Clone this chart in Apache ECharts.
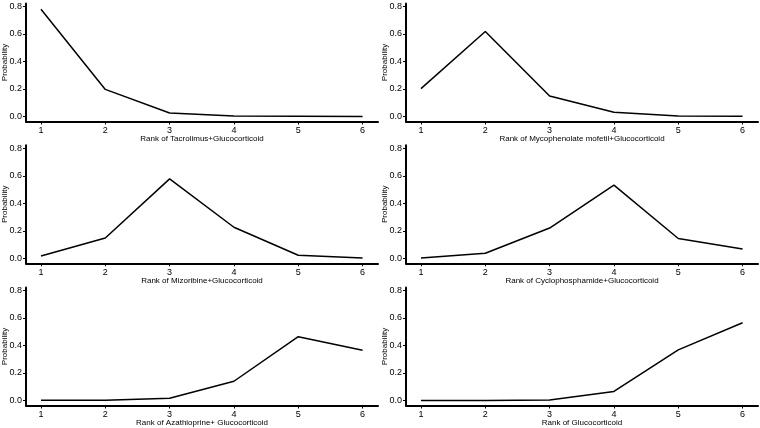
<!DOCTYPE html>
<html><head><meta charset="utf-8">
<script src="https://cdn.jsdelivr.net/npm/echarts@6/dist/echarts.min.js"></script>
<style>html,body{margin:0;padding:0;background:#fff}#c{width:760px;height:428px}</style>
</head><body><div id="c"></div>
<script>
const ranks = [1, 2, 3, 4, 5, 6];
const yTicks = [0, 0.2, 0.4, 0.6, 0.8];
const titles = [
  'Rank of Tacrolimus+Glucocorticoid',
  'Rank of Mycophenolate mofetil+Glucocorticoid',
  'Rank of Mizoribine+Glucocorticoid',
  'Rank of Cyclophosphamide+Glucocorticoid',
  'Rank of Azathioprine+ Glucocorticoid',
  'Rank of Glucocorticoid'
];
const tacrolimus = [0.78, 0.197, 0.025, 0.004, 0.001, 0.0];
const mycophenolate = [0.203, 0.618, 0.149, 0.031, 0.003, 0.001];
const mizoribine = [0.017, 0.148, 0.578, 0.226, 0.022, 0.003];
const cyclophosphamide = [0.003, 0.037, 0.22, 0.532, 0.144, 0.068];
const azathioprine = [0.001, 0.002, 0.016, 0.14, 0.464, 0.366];
const glucocorticoid = [0.0, 0.0, 0.004, 0.066, 0.368, 0.565];
const seriesData = [tacrolimus, mycophenolate, mizoribine, cyclophosphamide, azathioprine, glucocorticoid];

const chart = echarts.init(document.getElementById('c'), null, {renderer: 'canvas'});
const FONT = 'Liberation Sans';
const zeroY = [116.5, 258.3, 400.5];
const S = 137.5;
const colX = [26, 406];
const axW = 352;
const grids = [], xAxes = [], yAxes = [], series = [];
for (let i = 0; i < 6; i++) {
  const r = Math.floor(i / 2), c = i % 2;
  const top = zeroY[r] - 0.8 * S - 3;
  const bottom = zeroY[r] + 5;
  grids.push({left: colX[c], top: top, width: axW, height: bottom - top,
    containLabel: false, outerBoundsMode: 'none'});
  xAxes.push({
    type: 'value', gridIndex: i, min: 0.767, max: 6.24,
    name: titles[i], nameLocation: 'middle', nameGap: 13, nameMoveOverlap: false,
    nameTextStyle: {color: '#000', fontFamily: FONT, fontSize: 8},
    axisLine: {onZero: false, lineStyle: {color: '#000', width: 2}},
    axisTick: {show: true, length: 3, lineStyle: {color: '#000', width: 1}, customValues: ranks},
    axisLabel: {color: '#000', fontFamily: FONT, fontSize: 9, margin: 5, customValues: ranks},
    splitLine: {show: false}
  });
  yAxes.push({
    type: 'value', gridIndex: i, min: -5 / S, max: 0.8 + 3 / S,
    name: 'Probability', nameLocation: 'middle', nameGap: 17, nameMoveOverlap: false,
    nameTextStyle: {color: '#000', fontFamily: FONT, fontSize: 8},
    axisLine: {show: true, onZero: false, lineStyle: {color: '#000', width: 2}},
    axisTick: {show: true, length: 3, lineStyle: {color: '#000', width: 1}, customValues: yTicks},
    axisLabel: {color: '#000', fontFamily: FONT, fontSize: 9, margin: 4, customValues: yTicks,
      formatter: v => v.toFixed(1)},
    splitLine: {show: false}
  });
  series.push({
    type: 'line', xAxisIndex: i, yAxisIndex: i,
    data: ranks.map((x, k) => [x, seriesData[i][k]]),
    showSymbol: false, symbol: 'none',
    lineStyle: {color: '#000', width: 1.5}, animation: false
  });
}
chart.setOption({animation: false, backgroundColor: '#fff', grid: grids, xAxis: xAxes, yAxis: yAxes, series: series});
</script></body></html>
